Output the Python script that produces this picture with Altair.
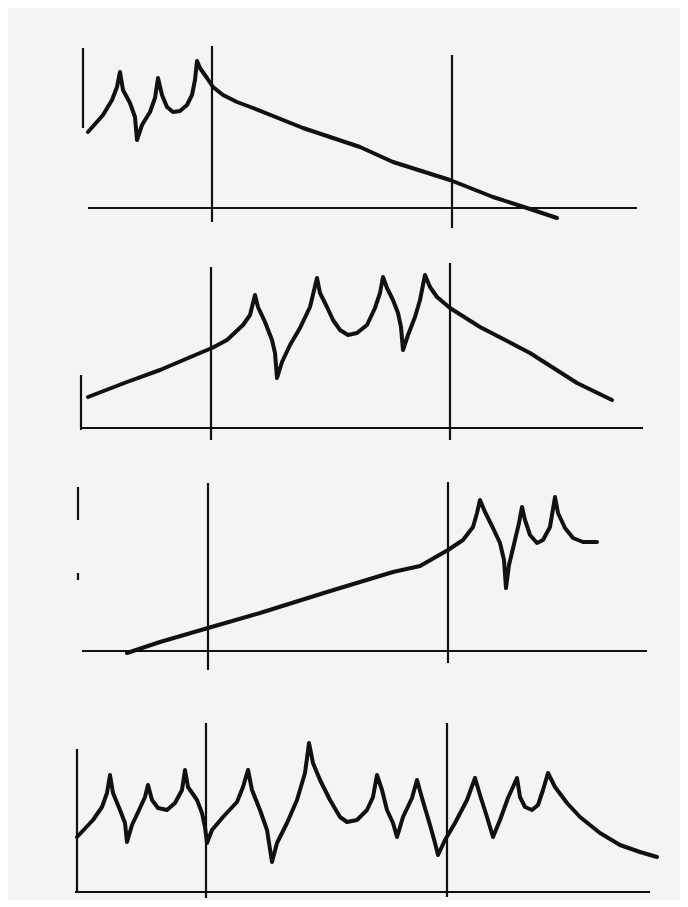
import altair as alt
import pandas as pd

# ---- data (x in page-like units, h = height above each panel's baseline) ----
# Panel 1
P1_X = [88, 103, 112, 117, 120, 123, 130, 135, 137, 142, 150, 155, 158, 162, 167, 173,
        180, 187, 192, 195, 197, 200, 207, 213, 223, 237, 253, 303, 360, 393, 450, 493,
        527, 557]
P1_H = [76, 93, 108, 121, 136, 118, 105, 91, 68, 83, 96, 110, 130, 113, 101, 96,
        97, 103, 113, 128, 147, 140, 130, 121, 113, 106, 100, 80, 61, 46, 28, 11,
        0, -10]
P1_SEGS = [(88, 637, 0, 0), (83, 83, 160, 80), (212, 212, 162, -14), (452, 452, 153, -20)]

# Panel 2
P2_X = [88, 127, 160, 200, 212, 227, 243, 250, 255, 258, 265, 272, 275, 277, 282, 290,
        300, 310, 317, 320, 327, 333, 340, 348, 357, 367, 375, 380, 383, 387, 393, 398,
        401, 403, 408, 415, 420, 425, 430, 437, 450, 480, 530, 577, 612]
P2_H = [31, 46, 58, 75, 80, 88, 103, 113, 133, 121, 106, 88, 75, 50, 66, 83,
        100, 121, 150, 135, 121, 108, 98, 93, 95, 103, 120, 135, 151, 140, 128, 115,
        101, 78, 93, 111, 128, 153, 141, 131, 120, 101, 75, 45, 28]
P2_SEGS = [(80, 643, 0, 0), (81, 81, 53, -2), (211, 211, 161, -12), (450, 450, 165, -12)]

# Panel 3
P3_X = [127, 160, 208, 260, 327, 393, 420, 448, 463, 473, 477, 480, 485, 493, 500, 504,
        506, 509, 515, 519, 522, 525, 530, 537, 543, 550, 555, 558, 565, 573, 583, 597]
P3_H = [-2, 9, 23, 38, 59, 79, 85, 101, 111, 124, 138, 151, 139, 123, 108, 91,
        63, 86, 111, 128, 144, 131, 116, 108, 111, 124, 154, 138, 123, 113, 109, 109]
P3_SEGS = [(82, 647, 0, 0), (78, 78, 164, 131), (78, 78, 78, 71), (208, 208, 168, -19),
           (448, 448, 169, -12)]

# Panel 4
P4_X = [77, 93, 102, 107, 110, 113, 120, 125, 127, 132, 140, 145, 148, 152, 158, 167,
        175, 182, 185, 188, 197, 202, 205, 207, 212, 223, 237, 243, 248, 252, 260, 267,
        272, 277, 287, 297, 305, 309, 313, 320, 330, 340, 347, 357, 367, 373, 377, 382,
        387, 393, 397, 403, 412, 417, 422, 430, 435, 438, 445, 455, 467, 475, 480, 487,
        493, 500, 508, 517, 520, 525, 532, 538, 543, 548, 555, 567, 580, 600, 620, 640,
        657]
P4_H = [55, 72, 85, 99, 117, 99, 82, 69, 50, 67, 84, 95, 107, 92, 84, 82,
        89, 102, 122, 105, 92, 79, 65, 49, 62, 75, 90, 105, 122, 102, 82, 62,
        30, 49, 69, 92, 119, 149, 129, 112, 92, 75, 70, 72, 82, 95, 117, 102,
        82, 69, 55, 75, 94, 112, 94, 67, 49, 37, 52, 69, 92, 114, 97, 75,
        55, 72, 94, 114, 95, 85, 82, 87, 102, 119, 105, 89, 75, 59, 47, 40,
        35]
P4_SEGS = [(75, 650, 0, 0), (77, 77, 143, 0), (206, 206, 169, -6), (447, 447, 169, -5)]

PANELS = [
    (P1_X, P1_H, P1_SEGS, [-32, 200], 232),
    (P2_X, P2_H, P2_SEGS, [-32, 188], 220),
    (P3_X, P3_H, P3_SEGS, [-39, 191], 230),
    (P4_X, P4_H, P4_SEGS, [-7, 202], 209),
]

INK = "#111111"
BG = "#f4f4f3"


def panel(xs, hs, segs, hdom, height):
    curve = pd.DataFrame({"x": xs, "h": hs, "i": list(range(len(xs)))})
    seg = pd.DataFrame(segs, columns=["x", "x2", "h", "h2"])
    xs_ = alt.Scale(domain=[8, 680], nice=False, zero=False)
    ys_ = alt.Scale(domain=hdom, nice=False, zero=False)
    rules = alt.Chart(seg).mark_rule(color=INK, strokeWidth=2.2).encode(
        x=alt.X("x:Q", scale=xs_, axis=None),
        x2="x2:Q",
        y=alt.Y("h:Q", scale=ys_, axis=None),
        y2="h2:Q",
    )
    line = alt.Chart(curve).mark_line(
        color=INK, strokeWidth=4.0, strokeJoin="round", strokeCap="round"
    ).encode(
        x=alt.X("x:Q", scale=xs_, axis=None),
        y=alt.Y("h:Q", scale=ys_, axis=None),
        order="i:Q",
    )
    return alt.layer(rules, line).properties(width=672, height=height)


chart = alt.vconcat(*[panel(*p) for p in PANELS], spacing=0).properties(
    padding=0, background=BG
).configure_view(stroke=None).configure_concat(spacing=0)

chart.save("out.html", embed_options={"renderer": "svg", "actions": False})
